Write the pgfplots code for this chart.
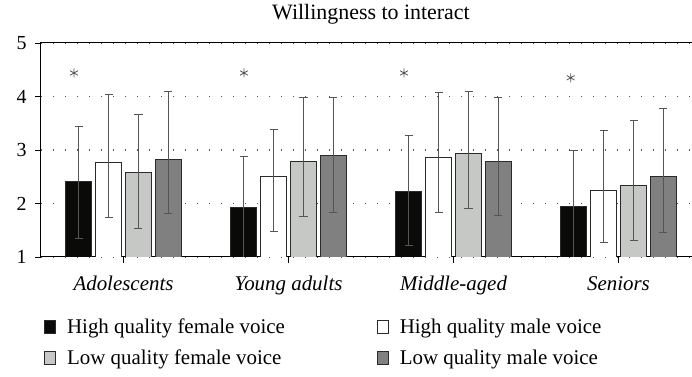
\documentclass[border=0pt]{standalone}
\usepackage{pgfplots}
\pgfplotsset{compat=1.18}
\usepackage{fontspec}
\setmainfont{Liberation Serif}

\definecolor{barblack}{HTML}{0A0A08}
\definecolor{barlight}{HTML}{C6C8C6}
\definecolor{bardark}{HTML}{808080}
\definecolor{edge}{HTML}{2A2A2A}
\definecolor{errc}{HTML}{555555}
\definecolor{gridc}{HTML}{555555}

% bars sit at explicit x positions (group index +/- offset), so no bar shift is needed
\pgfplotsset{
  voicebar/.style={ybar, bar width=26bp, bar shift=0pt, draw=edge, line width=0.9bp,
    error bars/y dir=both, error bars/y explicit,
    error bars/error bar style={errc, line width=1bp},
    error bars/error mark options={errc, rotate=90, mark size=4bp, line width=1bp}},
}

\begin{document}
\begin{tikzpicture}
\useasboundingbox (0,0) rectangle (692bp,377bp);
\begin{axis}[
  at={(41bp,120bp)}, anchor=south west,
  scale only axis, width=660bp, height=214bp,
  xmin=-0.5, xmax=3.5, ymin=1, ymax=5,
  xtick={0,1,2,3},
  xticklabels={Adolescents, Young adults, Middle-aged, Seniors},
  xticklabel style={font=\fontsize{21}{24}\selectfont\itshape, anchor=base, yshift=-27bp},
  ytick={1,2,3,4,5},
  yticklabel style={font=\fontsize{20}{24}\selectfont, xshift=-5bp},
  /pgf/number format/assume math mode=true,
  tick align=outside, major tick length=6bp,
  xtick pos=bottom, ytick pos=left,
  tick style={black, line width=0.8bp},
  axis line style={black, line width=1bp},
  ymajorgrids, grid style={gridc, line width=1.2bp, dash pattern=on 1.2bp off 10.8bp},
  title={Willingness to interact},
  title style={at={(axis description cs:0.5,1)}, anchor=base, yshift=18bp,
    font=\fontsize{22}{26}\selectfont},
  legend columns=2,
  legend cell align=left,
  legend style={at={(axis description cs:0.0,-0.27)}, anchor=north west,
    draw=none, fill=none, font=\fontsize{21}{24}\selectfont,
    row sep=11bp,
    /tikz/every odd column/.append style={column sep=9bp},
    /tikz/every even column/.append style={column sep=90bp}},
  legend image code/.code={\draw[#1, line width=0.9bp] (0bp,-6.5bp) rectangle (11bp,6.5bp);},
]
% High quality female voice
\addplot[voicebar, fill=barblack] coordinates {
  (-0.2727,2.41) += (0,1.02) -= (0,1.07)
  (0.7273,1.92) += (0,0.95) -= (0,0.95)
  (1.7273,2.23) += (0,1.04) -= (0,1.02)
  (2.7273,1.94) += (0,1.05) -= (0,1.05)
};
\addlegendentry{High quality female voice}
% High quality male voice
\addplot[voicebar, fill=white] coordinates {
  (-0.0909,2.76) += (0,1.27) -= (0,1.03)
  (0.9091,2.50) += (0,0.89) -= (0,1.03)
  (1.9091,2.87) += (0,1.21) -= (0,1.03)
  (2.9091,2.25) += (0,1.11) -= (0,0.98)
};
\addlegendentry{High quality male voice}
% Low quality female voice
\addplot[voicebar, fill=barlight] coordinates {
  (0.0909,2.58) += (0,1.09) -= (0,1.04)
  (1.0909,2.78) += (0,1.21) -= (0,1.02)
  (2.0909,2.93) += (0,1.17) -= (0,1.03)
  (3.0909,2.33) += (0,1.22) -= (0,1.03)
};
\addlegendentry{Low quality female voice}
% Low quality male voice
\addplot[voicebar, fill=bardark] coordinates {
  (0.2727,2.83) += (0,1.26) -= (0,1.01)
  (1.2727,2.89) += (0,1.10) -= (0,1.05)
  (2.2727,2.79) += (0,1.19) -= (0,1.02)
  (3.2727,2.50) += (0,1.28) -= (0,1.04)
};
\addlegendentry{Low quality male voice}
% significance markers above the female high-quality bars
\addplot[only marks, mark=asterisk, mark size=4.5bp, errc, line width=0.8bp, forget plot]
  coordinates {(-0.30,4.44) (0.73,4.44) (1.70,4.44) (2.71,4.35)};
\end{axis}
\end{tikzpicture}
\end{document}
